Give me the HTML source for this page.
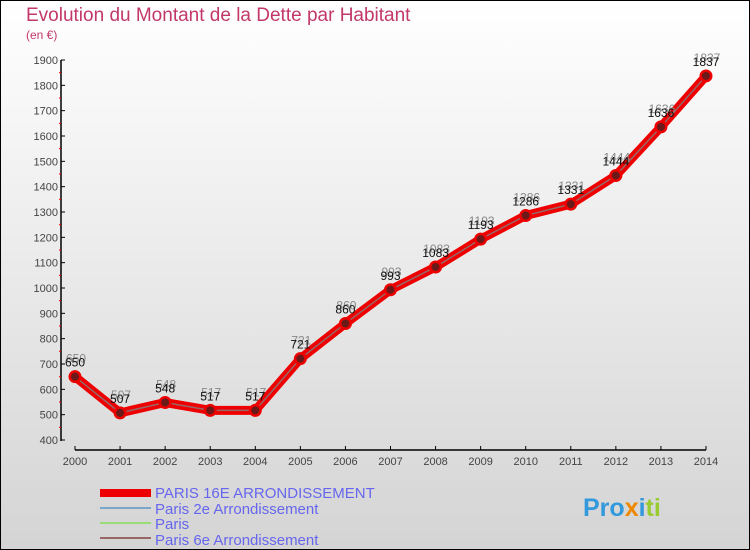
<!DOCTYPE html>
<html><head><meta charset="utf-8"><style>
body{margin:0}
#wrap{width:750px;height:550px;position:relative;overflow:hidden;font-family:"Liberation Sans",sans-serif}
</style></head><body>
<div id="wrap">
<svg id="chart" width="750" height="550" viewBox="0 0 750 550" xmlns="http://www.w3.org/2000/svg">
<defs><linearGradient id="bg" x1="0" y1="0" x2="0" y2="1"><stop offset="0" stop-color="#ffffff"/><stop offset="1" stop-color="#d4d4d4"/></linearGradient></defs>
<rect x="0.5" y="0.5" width="749" height="549" fill="url(#bg)" stroke="#000"/>
<text x="26" y="21" font-size="19" fill="#c2386a">Evolution du Montant de la Dette par Habitant</text>
<text x="26" y="39" font-size="12" fill="#c2386a">(en €)</text>
<g id="axes"></g>
<g id="series"></g>
<g id="legend">
<rect x="100" y="489" width="51" height="8" fill="#ee0000"/>
<text x="155" y="498" font-size="15" fill="#6666ee">PARIS 16E  ARRONDISSEMENT</text>
<rect x="100" y="507" width="51" height="2" fill="#7aa6cc"/>
<text x="155" y="514" font-size="15" fill="#6666ee">Paris 2e  Arrondissement</text>
<rect x="100" y="522" width="51" height="2" fill="#99dd77"/>
<text x="155" y="529" font-size="15" fill="#6666ee">Paris</text>
<rect x="100" y="537" width="51" height="2" fill="#996666"/>
<text x="155" y="545" font-size="15" fill="#6666ee">Paris 6e  Arrondissement</text>
</g>
<g font-size="25" font-weight="bold">
<text x="583" y="516"><tspan fill="#3399dd">Pro</tspan><tspan fill="#ee8800">x</tspan><tspan fill="#3399dd">i</tspan><tspan fill="#99cc33">ti</tspan></text>
</g>
</svg>
</div>
<script>
const years=[2000,2001,2002,2003,2004,2005,2006,2007,2008,2009,2010,2011,2012,2013,2014];
const values=[650,507,548,517,517,721,860,993,1083,1193,1286,1331,1444,1636,1837];
const yTicks=[400,500,600,700,800,900,1000,1100,1200,1300,1400,1500,1600,1700,1800,1900];
const NS="http://www.w3.org/2000/svg";
const x=i=>75+i*(706-75)/(years.length-1);
const y=v=>440-(v-400)*(380/1500);
function mk(t,a,p){const e=document.createElementNS(NS,t);for(const k in a)e.setAttribute(k,a[k]);p.appendChild(e);return e;}
const ax=document.getElementById('axes');
const yl=mk('line',{x1:61,y1:60,x2:61,y2:441,stroke:'#000','stroke-width':1.5},ax);


const xl=mk('line',{x1:75,y1:450,x2:706,y2:450,stroke:'#000','stroke-width':1.5},ax);


yTicks.forEach((v,i)=>{
  mk('line',{x1:61,y1:y(v),x2:65,y2:y(v),stroke:'#000'},ax);
  if(i<yTicks.length-1) mk('line',{x1:59,y1:y(v+50),x2:61,y2:y(v+50),stroke:'#e00'},ax);
  const t=mk('text',{x:58,y:y(v)+4,'font-size':11,fill:'#444','text-anchor':'end'},ax);
  t.textContent=v;
  
  
});
years.forEach((yr,i)=>{
  mk('line',{x1:x(i),y1:446,x2:x(i),y2:450,stroke:'#000'},ax);
  const t=mk('text',{x:x(i),y:465,'font-size':11,fill:'#444','text-anchor':'middle'},ax);
  t.textContent=yr;
  
  
});
const s=document.getElementById('series');
const pts=values.map((v,i)=>x(i)+','+y(v)).join(' ');
const l1=mk('polyline',{points:pts,fill:'none',stroke:'#ee0000','stroke-width':9,'stroke-linejoin':'round'},s);


const l2=mk('polyline',{points:pts,fill:'none',stroke:'#996666','stroke-width':1.5},s);


values.forEach((v,i)=>{
  mk('circle',{cx:x(i),cy:y(v),r:6.5,fill:'#ee0000'},s);
  const c=mk('circle',{cx:x(i),cy:y(v),r:4,fill:'#6b1a1a'},s);
  
  
  const g=mk('text',{x:x(i)+1,y:y(v)-14,'font-size':12,fill:'#888','text-anchor':'middle'},s);
  g.textContent=v;
  
  
  const t=mk('text',{x:x(i),y:y(v)-10,'font-size':12,fill:'#111','text-anchor':'middle'},s);
  t.textContent=v;
  
  
});
</script>
</body></html>
